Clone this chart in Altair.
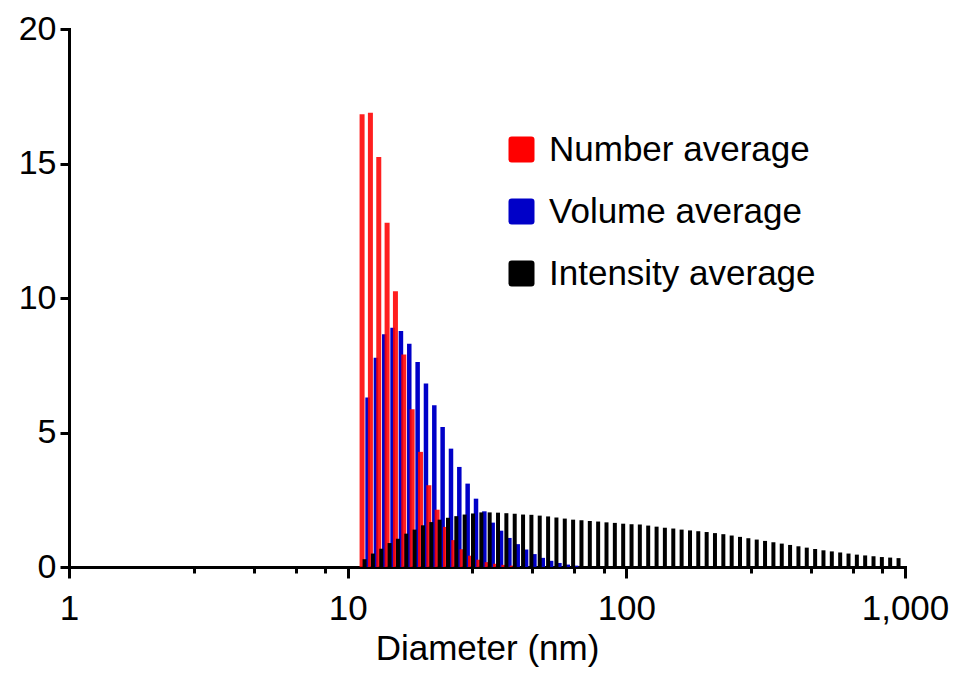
import altair as alt
import pandas as pd

diameter_nm = [11.50, 12.32, 13.20, 14.14, 15.15, 16.23, 17.39, 18.63, 19.96, 21.38,
               22.91, 24.54, 26.29, 28.17, 30.18, 32.33, 34.64, 37.11, 39.76, 42.60,
               45.64, 48.89, 52.39, 56.12, 60.13, 64.42, 69.02, 73.95, 79.22, 84.88,
               90.94, 97.43, 104.4, 111.8, 119.8, 128.4, 137.5, 147.4, 157.9, 169.2,
               181.2, 194.2, 208.0, 222.9, 238.8, 255.8, 274.1, 293.7, 314.6, 337.1,
               361.2, 386.9, 414.6, 444.1, 475.9, 509.8, 546.2, 585.3, 627.1, 671.8,
               719.5, 770.9, 825.9, 884.6, 948.0]

# Values for the first bins of each series (the remaining bins are empty)
number_avg = [16.83, 16.89, 15.24, 12.80, 10.25, 7.90, 5.86, 4.28, 3.04, 2.13,
              1.49, 1.00, 0.66, 0.42, 0.27, 0.18, 0.12, 0.08, 0.05]

volume_avg = [6.30, 7.78, 8.65, 8.89, 8.77, 8.30, 7.62, 6.82, 6.01, 5.20,
              4.40, 3.72, 3.10, 2.54, 2.07, 1.65, 1.35, 1.08, 0.85, 0.65,
              0.48, 0.34, 0.23, 0.15, 0.09, 0.05]

intensity_avg = [0.29, 0.50, 0.68, 0.89, 1.05, 1.24, 1.39, 1.55, 1.67, 1.76,
                 1.83, 1.89, 1.95, 1.99, 2.03, 2.03, 2.02, 2.00, 1.98, 1.95,
                 1.94, 1.91, 1.88, 1.84, 1.80, 1.76, 1.74, 1.71, 1.69, 1.66,
                 1.64, 1.61, 1.59, 1.58, 1.54, 1.50, 1.46, 1.43, 1.39, 1.36,
                 1.33, 1.30, 1.26, 1.22, 1.17, 1.12, 1.07, 1.02, 0.97, 0.92,
                 0.87, 0.82, 0.77, 0.72, 0.67, 0.62, 0.58, 0.54, 0.50, 0.46,
                 0.43, 0.40, 0.37, 0.35, 0.33]

series_names = ["Number average", "Volume average", "Intensity average"]
series_colors = ["#ff0000", "#0000c8", "#000000"]

x_major = [1, 10, 100, 1000]
x_minor = [2.8, 4.6, 6.5, 8.3, 28, 46, 65, 83, 280, 460, 650, 830]
y_ticks = [0, 5, 10, 15, 20]

FONT = "Liberation Sans"
FS = 35

xscale = alt.Scale(type="log", domain=[1, 1000], nice=False, padding=0)
yscale = alt.Scale(domain=[0, 20], nice=False, padding=0)

major_test = "datum.value == 1 || datum.value == 10 || datum.value == 100 || datum.value == 1000"

xaxis = alt.Axis(
    values=x_major + x_minor,
    labelExpr="datum.value == 1 ? '1' : datum.value == 10 ? '10' : datum.value == 100 ? '100' : datum.value == 1000 ? '1,000' : ''",
    tickSize={"condition": {"test": major_test, "value": 11}, "value": 6},
    tickWidth=3, tickColor="black",
    domainColor="black", domainWidth=3, domainCap="square",
    labelFont=FONT, labelFontSize=FS, labelColor="black",
    labelPadding=13, labelFlush=False, labelOverlap=False,
    grid=False,
    title="Diameter (nm)", titleFont=FONT, titleFontSize=FS,
    titleFontWeight="normal", titleColor="black", titlePadding=5,
)

yaxis = alt.Axis(
    values=y_ticks,
    tickSize=9, tickWidth=3, tickColor="black",
    domainColor="black", domainWidth=3, domainCap="square",
    labelFont=FONT, labelFontSize=34, labelColor="black", labelPadding=4,
    grid=False, title=None,
)

rounded_square = ("M -0.75,-1 L 0.75,-1 Q 1,-1 1,-0.75 L 1,0.75 Q 1,1 0.75,1 "
                  "L -0.75,1 Q -1,1 -1,0.75 L -1,-0.75 Q -1,-1 -0.75,-1 Z")

color = alt.Color(
    "series:N",
    scale=alt.Scale(domain=series_names, range=series_colors),
    legend=alt.Legend(
        orient="none", legendX=435, legendY=103, title=None, direction="vertical",
        symbolType=rounded_square, symbolSize=676, symbolStrokeWidth=0, symbolOpacity=1,
        labelFont=FONT, labelFontSize=FS, labelColor="black", labelOffset=10,
        rowPadding=26, padding=0, labelLimit=0,
    ),
)


def bars(values, name, width, offset, opacity):
    df = pd.DataFrame({
        "diameter": diameter_nm[:len(values)],
        "percent": values,
        "series": [name] * len(values),
    })
    return alt.Chart(df).mark_bar(
        orient="vertical", size=width, xOffset=offset, opacity=opacity
    ).encode(
        x=alt.X("diameter:Q", scale=xscale, axis=xaxis),
        y=alt.Y("percent:Q", scale=yscale, axis=yaxis, stack=False),
        color=color,
    )


blue = bars(volume_avg, "Volume average", 4.5, 3, 1)
red = bars(number_avg, "Number average", 5, -2.5, 0.88)
black = bars(intensity_avg, "Intensity average", 4, 0, 1)

chart = alt.layer(blue, red, black).properties(
    width=836, height=538,
    padding={"left": 61, "top": 21, "right": 45, "bottom": 100},
    autosize=alt.AutoSizeParams(type="none"),
    background="white",
).configure_view(strokeWidth=0)

chart.save("out.html", embed_options={"renderer": "svg", "actions": False})
